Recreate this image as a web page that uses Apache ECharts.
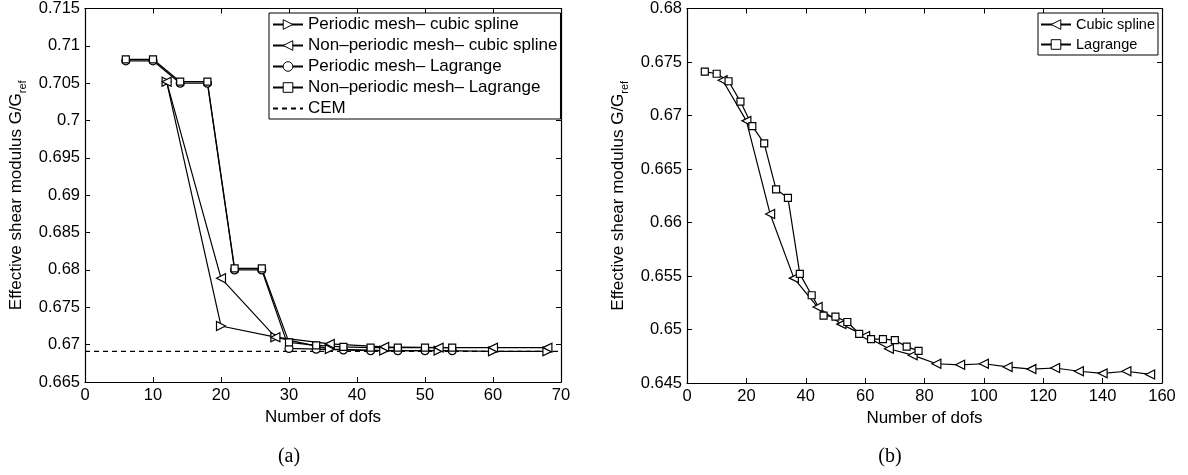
<!DOCTYPE html>
<html>
<head>
<meta charset="utf-8">
<script src="https://cdn.jsdelivr.net/npm/echarts@6/dist/echarts.min.js"></script>
<style>
html, body { margin: 0; padding: 0; background: #fff; }
#main { width: 1188px; height: 475px; }
</style>
</head>
<body>
<div id="main"></div>
<script>
// 图(a) 数据
var dofsLagA = [6, 10, 14, 18, 22, 26, 30, 34, 38, 42, 46, 50, 54];
var periodicLag = [0.7080, 0.7080, 0.7050, 0.7050, 0.6800, 0.6800, 0.6695, 0.6694, 0.6693, 0.6692, 0.6692, 0.6692, 0.6692];
var nonPeriodicLag = [0.7082, 0.7082, 0.7052, 0.7052, 0.6802, 0.6802, 0.6703, 0.6699, 0.6697, 0.6696, 0.6696, 0.6696, 0.6696];
var dofsCubA = [12, 20, 28, 36, 44, 52, 60, 68];
var periodicCub = [0.7052, 0.6725, 0.6710, 0.6694, 0.6692, 0.6692, 0.6691, 0.6691];
var nonPeriodicCub = [0.7052, 0.6789, 0.6710, 0.6701, 0.6697, 0.6696, 0.6696, 0.6696];
var cemX = [0, 70];
var cemY = [0.6691, 0.6691];

// 图(b) 数据
var dofsCubB = [12, 20, 28, 36, 44, 52, 60, 68, 76, 84, 92, 100, 108, 116, 124, 132, 140, 148, 156];
var cubicB = [0.6733, 0.6695, 0.6608, 0.6548, 0.6521, 0.6505, 0.6494, 0.6482, 0.6476, 0.6468, 0.6467, 0.6468, 0.6465, 0.6463, 0.6464, 0.6461, 0.6459, 0.6461, 0.6458];
var dofsLagB = [6, 10, 14, 18, 22, 26, 30, 34, 38, 42, 46, 50, 54, 58, 62, 66, 70, 74, 78];
var lagrangeB = [0.6741, 0.6739, 0.6732, 0.6713, 0.6690, 0.6674, 0.6631, 0.6623, 0.6552, 0.6532, 0.6513, 0.6512, 0.6507, 0.6496, 0.6491, 0.6491, 0.6490, 0.6484, 0.6480];

var FONT = 'Liberation Sans';

/**
 * @desc 把x和y合成点
 */
function pairs(xs, ys) {
    var out = [];
    for (var i = 0; i < xs.length; i++) {
        out.push([xs[i], ys[i]]);
    }
    return out;
}

/**
 * @desc 坐标轴 (label=false 时只画框线和刻度)
 */
function makeAxis(gridIndex, position, min, max, interval, label, name) {
    var ax = {
        type: 'value',
        gridIndex: gridIndex,
        position: position,
        min: min,
        max: max,
        interval: interval,
        splitLine: { show: false },
        axisLine: { show: true, onZero: false, lineStyle: { color: '#000', width: 1.2 } },
        axisTick: { show: true, inside: true, length: 5, lineStyle: { color: '#000', width: 1 } },
        axisLabel: {
            show: label,
            color: '#000',
            fontFamily: FONT,
            fontSize: 16.5,
            margin: 5,
            formatter: function (v) { return String(parseFloat(v.toFixed(3))); }
        }
    };
    if (name) {
        ax.name = name;
        ax.nameLocation = 'middle';
    }
    return ax;
}

var yName = '{n|Effective shear modulus G/G}{s|ref}';
var yRich = {
    n: { fontFamily: FONT, fontSize: 17, color: '#000', lineHeight: 24 },
    s: { fontFamily: FONT, fontSize: 11, color: '#000', lineHeight: 12, verticalAlign: 'bottom' }
};

var xAxes = [
    makeAxis(0, 'bottom', 0, 70, 10, true, 'Number of dofs'),
    makeAxis(0, 'top', 0, 70, 10, false),
    makeAxis(1, 'bottom', 0, 160, 20, true, 'Number of dofs'),
    makeAxis(1, 'top', 0, 160, 20, false)
];
xAxes[0].nameGap = 21;
xAxes[2].nameGap = 21;
xAxes[0].nameTextStyle = { fontFamily: FONT, fontSize: 17, color: '#000' };
xAxes[2].nameTextStyle = { fontFamily: FONT, fontSize: 17, color: '#000' };

var yAxes = [
    makeAxis(0, 'left', 0.665, 0.715, 0.005, true, yName),
    makeAxis(0, 'right', 0.665, 0.715, 0.005, false),
    makeAxis(1, 'left', 0.645, 0.68, 0.005, true, yName),
    makeAxis(1, 'right', 0.645, 0.68, 0.005, false)
];
yAxes[0].nameGap = 57;
yAxes[2].nameGap = 57;
yAxes[0].nameTextStyle = { rich: yRich };
yAxes[2].nameTextStyle = { rich: yRich };

/**
 * @desc 折线 (空心符号)
 */
function lineSeries(name, data, xi, yi, symbol, size, rotate) {
    return {
        type: 'line',
        name: name,
        data: data,
        xAxisIndex: xi,
        yAxisIndex: yi,
        symbol: symbol,
        symbolSize: size,
        symbolRotate: rotate || 0,
        showAllSymbol: true,
        lineStyle: { color: '#000', width: 1.2 },
        itemStyle: { color: '#fff', borderColor: '#000', borderWidth: 1.2 },
        emphasis: { disabled: true }
    };
}

var nameA1 = 'Periodic mesh\u2013 cubic spline';
var nameA2 = 'Non\u2013periodic mesh\u2013 cubic spline';
var nameA3 = 'Periodic mesh\u2013 Lagrange';
var nameA4 = 'Non\u2013periodic mesh\u2013 Lagrange';

// CEM 虚线, 图例里不要符号
var cem = {
    type: 'line',
    name: 'CEM',
    data: pairs(cemX, cemY),
    xAxisIndex: 0,
    yAxisIndex: 0,
    symbol: 'circle',
    symbolSize: 0,
    showSymbol: false,
    lineStyle: { color: '#000', width: 1.2, type: [5, 4] },
    itemStyle: { color: '#000', opacity: 0 },
    emphasis: { disabled: true }
};

var series = [
    lineSeries(nameA1, pairs(dofsCubA, periodicCub), 0, 0, 'triangle', 9, -90),
    lineSeries(nameA2, pairs(dofsCubA, nonPeriodicCub), 0, 0, 'triangle', 9, 90),
    lineSeries(nameA3, pairs(dofsLagA, periodicLag), 0, 0, 'circle', 8),
    lineSeries(nameA4, pairs(dofsLagA, nonPeriodicLag), 0, 0, 'rect', 7),
    cem,
    lineSeries('Cubic spline', pairs(dofsCubB, cubicB), 2, 2, 'triangle', 9, 90),
    lineSeries('Lagrange', pairs(dofsLagB, lagrangeB), 2, 2, 'rect', 7)
];

// 图例符号空心
var legendItem = { color: '#fff', borderColor: '#000', borderWidth: 1 };

var option = {
    animation: false,
    backgroundColor: '#fff',
    grid: [
        { left: 85, top: 7, width: 476, height: 375 },
        { left: 687, top: 7, width: 475, height: 376 }
    ],
    xAxis: xAxes,
    yAxis: yAxes,
    legend: [{
        data: [nameA1, nameA2, nameA3, nameA4, 'CEM'],
        orient: 'vertical',
        left: 269,
        top: 13,
        itemWidth: 30,
        itemHeight: 12,
        itemGap: 4,
        padding: [3, 3, 2, 3],
        backgroundColor: '#fff',
        borderColor: '#000',
        borderWidth: 1,
        borderRadius: 0,
        selectedMode: false,
        itemStyle: legendItem,
        textStyle: { fontFamily: FONT, fontSize: 17, lineHeight: 17, color: '#000' }
    }, {
        data: ['Cubic spline', 'Lagrange'],
        orient: 'vertical',
        left: 1038,
        top: 13,
        itemWidth: 30,
        itemHeight: 12,
        itemGap: 5,
        padding: [4, 3, 3, 2],
        backgroundColor: '#fff',
        borderColor: '#000',
        borderWidth: 1,
        borderRadius: 0,
        selectedMode: false,
        itemStyle: legendItem,
        textStyle: { fontFamily: FONT, fontSize: 14.5, lineHeight: 15, color: '#000' }
    }],
    graphic: [{
        type: 'text',
        style: { text: '(a)', x: 289, y: 457, align: 'center', verticalAlign: 'middle', font: '20px "Liberation Serif"', fill: '#000' }
    }, {
        type: 'text',
        style: { text: '(b)', x: 890, y: 457, align: 'center', verticalAlign: 'middle', font: '20px "Liberation Serif"', fill: '#000' }
    }],
    series: series
};

var myChart = echarts.init(document.getElementById('main'));
myChart.setOption(option);
</script>
</body>
</html>
